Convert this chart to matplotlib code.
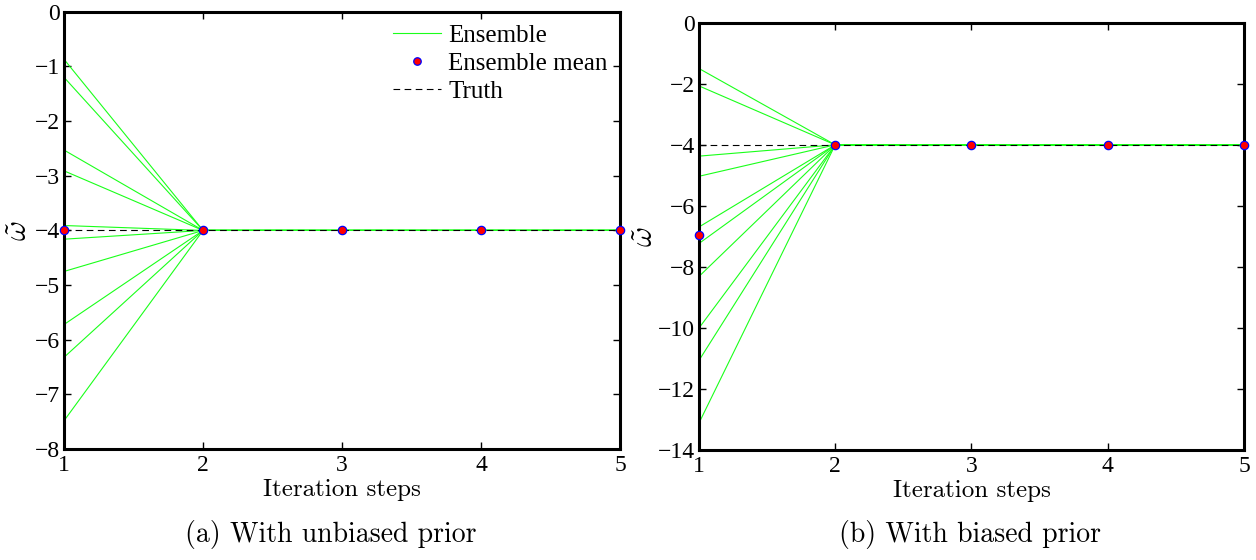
import matplotlib
matplotlib.use("Agg")
import matplotlib.pyplot as plt
import numpy as np

# ---- data ----
steps = [1, 2, 3, 4, 5]
truth_value = -4.0
ens_a_initial = [-0.87, -1.20, -2.53, -2.91, -3.91, -4.16, -4.75, -5.72, -6.32, -7.48]
ens_a_later = [-4.0, -4.0, -4.0, -4.0]
ens_b_initial = [-1.50, -2.07, -4.37, -5.03, -6.69, -7.23, -8.31, -10.0, -11.06, -13.11]
ens_b_later = [-4.0, -4.0, -4.0, -4.0]
mean_a = [-4.0, -4.0, -4.0, -4.0, -4.0]
mean_b = [-6.96, -4.0, -4.0, -4.0, -4.0]
yticks_a = [0, -1, -2, -3, -4, -5, -6, -7, -8]
yticks_b = [0, -2, -4, -6, -8, -10, -12, -14]
xlabel = "Iteration steps"
captions = ["(a) With unbiased prior", "(b) With biased prior"]

TICKFONT = "Liberation Serif"
CMFONT = "cmr10"
plt.rcParams["mathtext.fontset"] = "cm"

fig = plt.figure(figsize=(12.56, 5.6), dpi=100)
ax_a = fig.add_axes([0.051, 0.198, 0.4427, 0.781])
ax_b = fig.add_axes([0.5565, 0.196, 0.4339, 0.7635])


def draw(ax, init, later, mean, yticks, ylim, ylab_x, legend=False):
    for v in init:
        ax.plot(steps, [v] + later, color=(0.1, 1, 0.1), lw=0.8, zorder=2,
                label="Ensemble" if v == init[0] else None)
    ax.plot(steps, mean, linestyle="none", marker="o", markersize=6,
            markerfacecolor="red", markeredgecolor="blue", markeredgewidth=0.9,
            zorder=4, clip_on=False, label="Ensemble mean")
    ax.plot([steps[0], steps[-1]], [truth_value, truth_value], color="black",
            lw=0.8, dashes=(6, 4), zorder=3, label="Truth")
    ax.set_xlim(steps[0], steps[-1])
    ax.set_ylim(*ylim)
    ax.set_xticks(steps)
    ax.set_yticks(yticks)
    ax.set_xticklabels([str(s) for s in steps], fontfamily=TICKFONT, fontsize=17)
    ax.set_yticklabels([("\u2212" + str(abs(t))) if t < 0 else str(t) for t in yticks],
                       fontfamily=TICKFONT, fontsize=17)
    ax.tick_params(direction="in", length=5, width=1.0, top=True, right=True)
    ax.tick_params(axis="x", pad=4)
    ax.tick_params(axis="y", pad=3)
    for s in ax.spines.values():
        s.set_linewidth(2.2)
    ax.set_xlabel(xlabel, fontfamily=CMFONT, fontsize=18, labelpad=2)
    ax.set_ylabel(r"$\tilde{\omega}$", fontsize=22)
    ax.yaxis.set_label_coords(ylab_x, 0.5)
    if legend:
        ax.legend(loc="upper right", bbox_to_anchor=(1.0, 1.0), frameon=False,
                  prop={"family": TICKFONT, "size": 18}, handlelength=1.9,
                  handletextpad=0.3, labelspacing=0.22, borderaxespad=0.1,
                  markerscale=0.9)


draw(ax_a, ens_a_initial, ens_a_later, mean_a, yticks_a, (-8, 0), -0.056, legend=True)
draw(ax_b, ens_b_initial, ens_b_later, mean_b, yticks_b, (-14, 0), -0.073)

fig.text(0.263, 0.033, captions[0], fontfamily=CMFONT, fontsize=20, ha="center")
fig.text(0.772, 0.033, captions[1], fontfamily=CMFONT, fontsize=20, ha="center")

fig.savefig("out.png", dpi=100)
